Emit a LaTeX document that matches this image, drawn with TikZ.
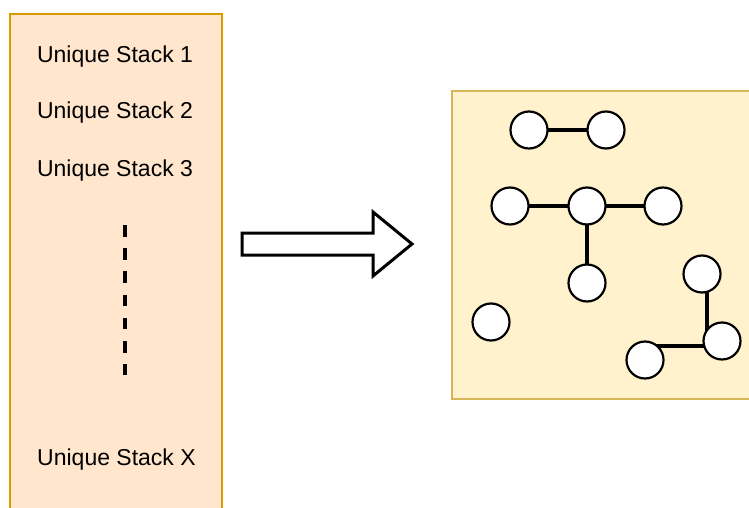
\documentclass[tikz,border=0pt]{standalone}
\usepackage{fontspec}
\setmainfont{Liberation Sans}
\pgfdeclarelayer{panels}
\pgfdeclarelayer{links}
\pgfsetlayers{panels,links,main}
\definecolor{stackfill}{HTML}{FFE6CC}
\definecolor{stackline}{HTML}{D79B00}
\definecolor{graphfill}{HTML}{FFF2CC}
\definecolor{graphline}{HTML}{D6B656}
\tikzset{
  vertex/.style={circle, draw=black, fill=white, line width=2.2pt, minimum size=37pt, inner sep=0pt},
  link/.style={draw=black, line width=3.5pt},
  stacklabel/.style={font=\fontsize{23pt}{27pt}\selectfont, anchor=base, inner sep=0pt},
}
\begin{document}
\begin{tikzpicture}[x=1pt, y=-1pt]
\useasboundingbox (0,0) rectangle (749,508);
\clip (0,0) rectangle (749,508);

% the two panels
\begin{pgfonlayer}{panels}
  \draw[fill=stackfill, draw=stackline, line width=2pt] (10,14.5) rectangle (221.5,530);
  \draw[fill=graphfill, draw=graphline, line width=2pt] (452,91) rectangle (770,399);
\end{pgfonlayer}

\node[stacklabel] (s1) at (115,62.3) {Unique Stack 1};
\node[stacklabel] (s2) at (115,119) {Unique Stack 2};
\node[stacklabel] (s3) at (115,176.5) {Unique Stack 3};
\node[stacklabel] (sx) at (116.5,465.7) {Unique Stack X};

\coordinate (dtop) at (124.5,225);
\coordinate (dbot) at (124.5,375);
\draw[line width=4pt, dash pattern=on 11.6pt off 11.6pt] (dtop) -- (dbot);

% block arrow
\draw[line width=3pt, line join=miter, fill=white]
  (242,233) -- (373,233) -- (373,212) -- (412,244) -- (373,276) -- (373,255) -- (242,255) -- cycle;

% graph of stacks
\node[vertex] (c1)  at (529,130) {};
\node[vertex] (c2)  at (606,130) {};
\node[vertex] (c3)  at (510,206) {};
\node[vertex] (c4)  at (587,206) {};
\node[vertex] (c5)  at (663,206) {};
\node[vertex] (c6)  at (587,283) {};
\node[vertex] (c7)  at (491,322) {};
\node[vertex] (c8)  at (702,274) {};
\node[vertex] (c9)  at (722,341) {};
\node[vertex] (c10) at (645,360) {};

\begin{pgfonlayer}{links}
  \draw[link] (c1.center) -- (c2.center);
  \draw[link] (c3.center) -- (c4.center);
  \draw[link] (c4.center) -- (c5.center);
  \draw[link] (c4.center) -- (c6.center);
  \draw[link] ([xshift=5pt]c8.center) -- ([xshift=5pt]c8.center |- c9.center);
  \draw[link] ([yshift=14pt]c10.center) -- ([yshift=14pt]c10.center -| c9.center);
\end{pgfonlayer}
\end{tikzpicture}
\end{document}
